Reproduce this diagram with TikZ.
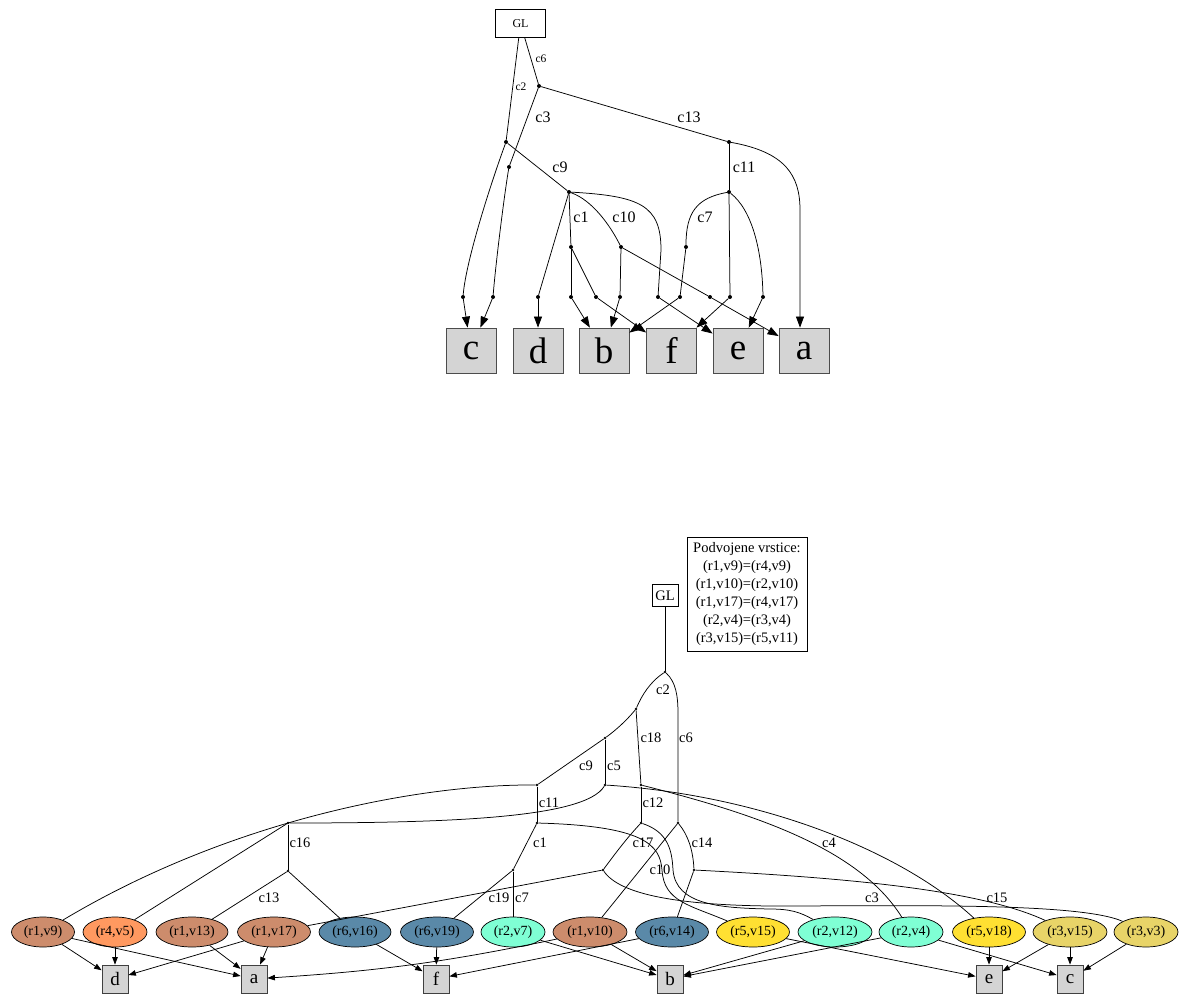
\documentclass[tikz,border=0pt]{standalone}
\usepackage{fontspec}
\setmainfont{Liberation Serif}
\usetikzlibrary{shapes.geometric,arrows.meta}

\definecolor{rone}{RGB}{205,140,108}
\definecolor{rfour}{RGB}{255,153,96}
\definecolor{rsix}{RGB}{90,137,168}
\definecolor{rtwo}{RGB}{127,255,212}
\definecolor{rfive}{RGB}{255,224,50}
\definecolor{rthree}{RGB}{232,212,104}

\begin{document}
\begin{tikzpicture}[x=1pt,y=-1pt,
  every node/.style={inner sep=0pt},
  wire/.style={line width=0.75pt},
  tarr/.style={wire,-{Triangle[length=11pt,width=8pt]}},
  barr/.style={wire,-{Triangle[length=7.5pt,width=5.5pt]}},
  tdot/.style={circle,fill=black,minimum size=4pt},
  bdot/.style={circle,fill=black,minimum size=2.6pt},
  topbox/.style={draw=black!70,fill=black!17,line width=0.8pt,minimum width=50pt,minimum height=45pt,font=\fontsize{37}{37}\selectfont},
  botbox/.style={draw=black!75,fill=black!17,line width=0.8pt,minimum width=26pt,minimum height=28pt,font=\fontsize{19}{19}\selectfont},
  tlab/.style={font=\fontsize{16}{16}\selectfont},
  tlabsm/.style={font=\fontsize{11.5}{11.5}\selectfont},
  blab/.style={font=\fontsize{14.5}{14.5}\selectfont},
  ell/.style={ellipse,draw,line width=0.7pt,minimum height=30pt,font=\fontsize{14}{14}\selectfont},
]
\useasboundingbox (0,0) rectangle (1179,996);

% ---------------- upper tree ----------------
\node[draw,line width=0.7pt,minimum width=50pt,minimum height=28pt,font=\fontsize{12}{12}\selectfont] (tGL) at (520.5,23.5) {GL};

\node[tdot] (P1) at (506,142) {};
\node[tdot] (P2) at (539,86) {};
\node[tdot] (P3) at (509,167) {};
\node[tdot] (P4) at (729,142) {};
\node[tdot] (P5) at (569,192) {};
\node[tdot] (P6) at (729,192) {};
\node[tdot] (A1) at (571,247) {};
\node[tdot] (A2) at (621,247) {};
\node[tdot] (A3) at (686,247) {};
\node[tdot] (Dc1) at (463,297) {};
\node[tdot] (Dc2) at (493,297) {};
\node[tdot] (Dd) at (538,297) {};
\node[tdot] (Db1) at (571,297) {};
\node[tdot] (Df1) at (596,297) {};
\node[tdot] (Db2) at (620,297) {};
\node[tdot] (De1) at (658,297) {};
\node[tdot] (Db3) at (680,297) {};
\node[tdot] (Da1) at (710,297) {};
\node[tdot] (Df2) at (730,297) {};
\node[tdot] (De2) at (763,297) {};

\node[topbox] (tc) at (471,350.5) {c};
\node[topbox] (td) at (538,350.5) {d};
\node[topbox] (tb) at (604,350.5) {b};
\node[topbox] (tf) at (671.5,350.5) {f};
\node[topbox] (te) at (738,350.5) {e};
\node[topbox] (ta) at (804,350.5) {a};

\draw[wire] (tGL) -- (P1);
\draw[wire] (tGL) -- (P2);
\draw[wire] (P2) -- (P3);
\draw[wire] (P2) -- (P4);
\draw[wire] (P1) -- (P5);
\draw[wire] (P4) -- (P6);
\draw[wire] (P1) .. controls (492,180) and (466,260) .. (Dc1);
\draw[wire] (P3) .. controls (505,190) and (496,260) .. (Dc2);
\draw[wire] (P5) -- (Dd);
\draw[wire] (P5) -- (A1);
\draw[wire] (P5) .. controls (592,200) and (610,225) .. (A2);
\draw[wire] (P5) .. controls (640,196) and (661,205) .. (661,250) -- (De1);
\draw[wire] (P6) .. controls (697,198) and (686,212) .. (A3);
\draw[wire] (P6) -- (Df2);
\draw[wire] (P6) .. controls (752,210) and (762,250) .. (De2);
\draw[wire] (A1) -- (Db1);
\draw[wire] (A1) -- (Df1);
\draw[wire] (A2) -- (Db2);
\draw[wire] (A2) -- (Da1);
\draw[wire] (A3) -- (Db3);
\coordinate (Pa) at (800,210);
\draw[tarr] (P4) .. controls (785,152) and (800,175) .. (Pa) -- (Pa |- ta.north);

\draw[tarr] (Dc1) -- (tc);
\draw[tarr] (Dc2) -- (tc);
\draw[tarr] (Dd) -- (td);
\draw[tarr] (Db1) -- (tb);
\draw[tarr] (Df1) -- (tf);
\draw[tarr] (Db2) -- (tb);
\draw[tarr] (De1) -- (te);
\draw[tarr] (Db3) -- (tb);
\draw[tarr] (Da1) -- (ta);
\draw[tarr] (Df2) -- (tf);
\draw[tarr] (De2) -- (te);

\node[tlabsm] at (521,87) {c2};
\node[tlabsm] at (541,59) {c6};
\node[tlab] at (543,117) {c3};
\node[tlab] at (689,117) {c13};
\node[tlab] at (560,167) {c9};
\node[tlab] at (744,167) {c11};
\node[tlab] at (581,217) {c1};
\node[tlab] at (624,217) {c10};
\node[tlab] at (705,217) {c7};

% ---------------- lower tree ----------------
\node[draw,line width=0.7pt,minimum width=26pt,minimum height=22pt,font=\fontsize{14.5}{14.5}\selectfont] (GL) at (665,595.5) {GL};
\node[draw,line width=0.7pt,minimum width=120pt,minimum height=114pt,align=center,
      font=\fontsize{14.5}{18}\selectfont] (legend) at (747,594)
  {Podvojene vrstice:\\(r1,v9)=(r4,v9)\\(r1,v10)=(r2,v10)\\(r1,v17)=(r4,v17)\\(r2,v4)=(r3,v4)\\(r3,v15)=(r5,v11)};

\node[bdot] (Q1) at (665,672) {};
\node[bdot] (Q2) at (636,709) {};
\node[bdot] (Q3) at (678,823) {};
\node[bdot] (Q4) at (605,738) {};
\node[bdot] (Q5) at (641,785) {};
\node[bdot] (Q6) at (537,785) {};
\node[bdot] (Q7) at (605,785) {};
\node[bdot] (Q8) at (537,823) {};
\node[bdot] (Q9) at (513,870) {};
\node[bdot] (Q10) at (641,823) {};
\node[bdot] (Q11) at (603,870) {};
\node[bdot] (Q12) at (694,870) {};
\node[bdot] (R1) at (288,823) {};
\node[bdot] (R2) at (288,871) {};

\node[ell,fill=rone,minimum width=63pt] (r1v9) at (43,932) {(r1,v9)};
\node[ell,fill=rfour,minimum width=64pt] (r4v5) at (115,932) {(r4,v5)};
\node[ell,fill=rone,minimum width=72pt] (r1v13) at (192,932) {(r1,v13)};
\node[ell,fill=rone,minimum width=73pt] (r1v17) at (274,932) {(r1,v17)};
\node[ell,fill=rsix,minimum width=72pt] (r6v16) at (355,932) {(r6,v16)};
\node[ell,fill=rsix,minimum width=73pt] (r6v19) at (437,932) {(r6,v19)};
\node[ell,fill=rtwo,minimum width=64pt] (r2v7) at (513,932) {(r2,v7)};
\node[ell,fill=rone,minimum width=74pt] (r1v10) at (590,932) {(r1,v10)};
\node[ell,fill=rsix,minimum width=73pt] (r6v14) at (672,932) {(r6,v14)};
\node[ell,fill=rfive,minimum width=73pt] (r5v15) at (753,932) {(r5,v15)};
\node[ell,fill=rtwo,minimum width=74pt] (r2v12) at (835,932) {(r2,v12)};
\node[ell,fill=rtwo,minimum width=64pt] (r2v4) at (911,932) {(r2,v4)};
\node[ell,fill=rfive,minimum width=73pt] (r5v18) at (989,932) {(r5,v18)};
\node[ell,fill=rthree,minimum width=74pt] (r3v15) at (1070,932) {(r3,v15)};
\node[ell,fill=rthree,minimum width=64pt] (r3v3) at (1146,932) {(r3,v3)};

\node[botbox] (bd) at (115,979) {d};
\node[botbox] (ba) at (254,979) {a};
\node[botbox] (bf) at (436,979) {f};
\node[botbox] (bb) at (670,979) {b};
\node[botbox] (be) at (989,979) {e};
\node[botbox] (bc) at (1070,979) {c};

\draw[wire] (GL) -- (Q1);
\draw[wire] (Q1) .. controls (650,682) and (642,695) .. (Q2);
\draw[wire] (Q1) .. controls (676,682) and (678,696) .. (678,714) -- (Q3);
\draw[wire] (Q2) .. controls (626,721) and (616,730) .. (Q4);
\draw[wire] (Q2) -- (Q5);
\draw[wire] (Q4) -- (Q6);
\draw[wire] (Q4) -- (Q7);
\draw[wire] (Q6) .. controls (420,784) and (230,820) .. (r1v9);
\draw[wire] (Q6) -- (Q8);
\draw[wire] (Q7) .. controls (585,818) and (450,823) .. (R1);
\draw[wire] (Q7) .. controls (760,795) and (900,850) .. (r5v18);
\draw[wire] (Q5) -- (Q10);
\draw[wire] (Q5) .. controls (760,815) and (860,850) .. (r2v4);
\draw[wire] (Q3) -- (r1v10);
\draw[wire] (Q3) .. controls (688,835) and (693,850) .. (Q12);
\draw[wire] (Q8) -- (Q9);
\draw[wire] (Q8) .. controls (645,826) and (660,845) .. (662,870) .. controls (664,902) and (690,905) .. (r5v15);
\draw[wire] (Q10) .. controls (625,840) and (612,858) .. (Q11);
\draw[wire] (Q10) .. controls (668,832) and (672,850) .. (673,870) .. controls (676,905) and (720,908) .. (770,909) .. controls (790,909) and (800,912) .. (r2v12);
\draw[wire] (Q11) -- (r1v17);
\draw[wire] (Q11) .. controls (620,895) and (680,905) .. (770,906) .. controls (900,906) and (1080,902) .. (r3v3);
\draw[wire] (Q12) -- (r6v14);
\draw[wire] (Q12) .. controls (850,878) and (980,890) .. (r3v15);
\draw[wire] (Q9) -- (r6v19);
\draw[wire] (Q9) -- (r2v7);
\draw[wire] (R1) -- (R2);
\draw[wire] (R1) -- (r4v5);
\draw[wire] (R2) -- (r1v13);
\draw[wire] (R2) -- (r6v16);

\draw[barr] (r1v9) -- (bd);
\draw[barr] (r1v9) -- (ba);
\draw[barr] (r4v5) -- (bd);
\draw[barr] (r1v13) -- (ba);
\draw[barr] (r1v17) -- (ba);
\draw[barr] (r1v17) -- (bd);
\draw[barr] (r6v16) -- (bf);
\draw[barr] (r6v19) -- (bf);
\draw[barr] (r2v7) -- (bb);
\draw[barr] (r1v10) -- (bb);
\draw[barr] (r1v10) to[bend left=4] (ba);
\draw[barr] (r6v14) -- (bf);
\draw[barr] (r5v15) -- (be);
\draw[barr] (r2v12) -- (bb);
\draw[barr] (r2v4) -- (bb);
\draw[barr] (r2v4) -- (bc);
\draw[barr] (r5v18) -- (be);
\draw[barr] (r3v15) -- (be);
\draw[barr] (r3v15) -- (bc);
\draw[barr] (r3v3) -- (bc);

\node[blab] at (663,690) {c2};
\node[blab] at (651,738) {c18};
\node[blab] at (686,738) {c6};
\node[blab] at (586,766) {c9};
\node[blab] at (614,766) {c5};
\node[blab] at (549,803) {c11};
\node[blab] at (653,803) {c12};
\node[blab] at (540,843) {c1};
\node[blab] at (643,843) {c17};
\node[blab] at (702,843) {c14};
\node[blab] at (660,870) {c10};
\node[blab] at (300,843) {c16};
\node[blab] at (269,898) {c13};
\node[blab] at (499,898) {c19};
\node[blab] at (522,898) {c7};
\node[blab] at (829,843) {c4};
\node[blab] at (872,898) {c3};
\node[blab] at (997,898) {c15};
\end{tikzpicture}
\end{document}
